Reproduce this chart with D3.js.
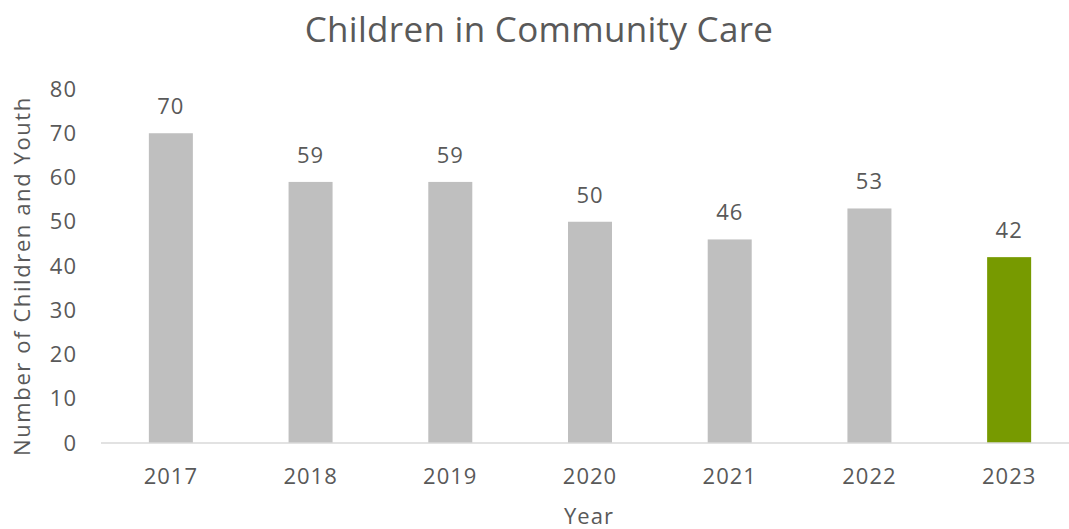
<!DOCTYPE html>
<html>
<head>
<meta charset="utf-8">
<script src="https://cdn.jsdelivr.net/npm/d3@7"></script>
<style>
  body { margin: 0; background: #fff; }
  svg text { font-family: "Open Sans", Lato, sans-serif; fill: #595959; }
</style>
</head>
<body>
<svg id="chart" width="1069" height="529"></svg>
<script>
var years = ['2017', '2018', '2019', '2020', '2021', '2022', '2023'];
var counts = [70, 59, 59, 50, 46, 53, 42];
var yTicks = [0, 10, 20, 30, 40, 50, 60, 70, 80];
var highlightYear = '2023';

var svg = d3.select('#chart');
var plotLeft = 101, plotRight = 1079, plotTop = 89, plotBottom = 443;

var x = d3.scaleBand().domain(years).range([plotLeft, plotRight]).paddingInner(0.685).paddingOuter(0.3425);
var y = d3.scaleLinear().domain([0, 80]).range([plotBottom, plotTop]);

svg.append('text')
    .attr('x', 539).attr('y', 42)
    .attr('text-anchor', 'middle')
    .style('font-size', '35px')
    .style('letter-spacing', '0.3px')
    .text('Children in Community Care');

// y tick labels (no gridlines)
svg.append('g').selectAll('text').data(yTicks).enter().append('text')
    .attr('x', 77)
    .attr('y', function (d) { return y(d); })
    .attr('dy', '0.35em')
    .attr('text-anchor', 'end')
    .style('font-size', '22px')
    .style('letter-spacing', '1px')
    .text(function (d) { return d; });

svg.append('g').selectAll('rect').data(years).enter().append('rect')
    .attr('x', function (d) { return x(d); })
    .attr('y', function (d, i) { return y(counts[i]); })
    .attr('width', x.bandwidth())
    .attr('height', function (d, i) { return plotBottom - y(counts[i]); })
    .attr('fill', function (d) { return d === highlightYear ? '#779a00' : '#bfbfbf'; });

svg.append('line')
    .attr('x1', plotLeft).attr('x2', 1072)
    .attr('y1', plotBottom).attr('y2', plotBottom)
    .attr('stroke', '#d9d9d9').attr('stroke-width', 1.5);

svg.append('g').selectAll('text').data(years).enter().append('text')
    .attr('x', function (d) { return x(d) + x.bandwidth() / 2; })
    .attr('y', function (d, i) { return y(counts[i]) - 19; })
    .attr('text-anchor', 'middle')
    .style('font-size', '22px')
    .style('letter-spacing', '1px')
    .text(function (d, i) { return counts[i]; });

svg.append('g').selectAll('text').data(years).enter().append('text')
    .attr('x', function (d) { return x(d) + x.bandwidth() / 2; })
    .attr('y', 484)
    .attr('text-anchor', 'middle')
    .style('font-size', '22px')
    .style('letter-spacing', '1px')
    .text(function (d) { return d; });

svg.append('text')
    .attr('x', 589).attr('y', 524)
    .attr('text-anchor', 'middle')
    .style('font-size', '22px')
    .style('letter-spacing', '1px')
    .text('Year');

svg.append('text')
    .attr('transform', 'translate(30,' + 276 + ') rotate(-90)')
    .attr('text-anchor', 'middle')
    .style('font-size', '22px')
    .style('letter-spacing', '1.6px')
    .text('Number of Children and Youth');
</script>
</body>
</html>
